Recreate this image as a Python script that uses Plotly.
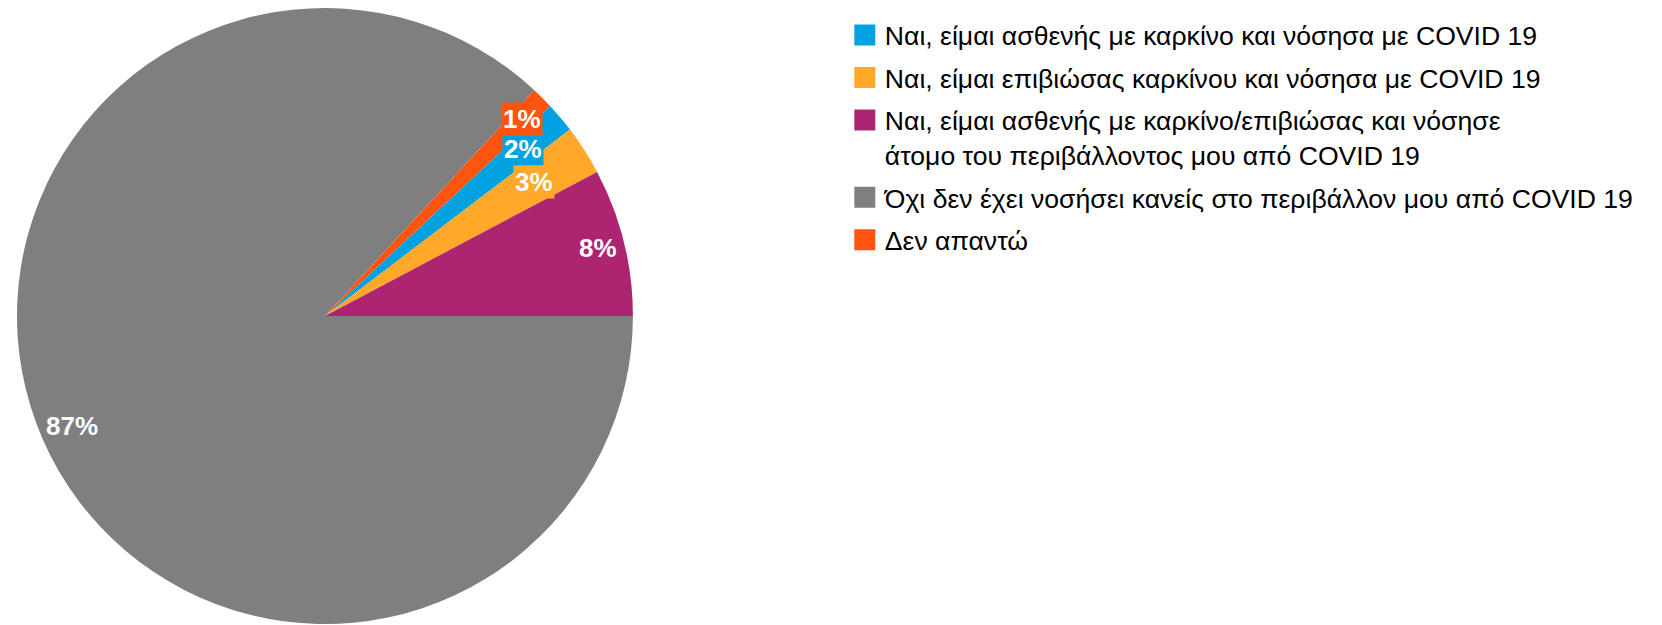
import math
import plotly.graph_objects as go

labels = [
    "Ναι, είμαι ασθενής με καρκίνο και νόσησα με COVID 19",
    "Ναι, είμαι επιβιώσας καρκίνου και νόσησα με COVID 19",
    "Ναι, είμαι ασθενής με καρκίνο/επιβιώσας και νόσησε<br>άτομο του περιβάλλοντος μου από COVID 19",
    "Όχι δεν έχει νοσήσει κανείς στο περιβάλλον μου από COVID 19",
    "Δεν απαντώ",
]
shares = [1.6, 2.6, 7.75, 86.9, 1.15]
colors = ["#00A3E0", "#FFA82A", "#AD2470", "#7F7F7F", "#FF5410"]

W, H = 1662, 625
dom_x = [0.0054, 0.3760]
dom_y = [0.0144, 1.0]
font = "Liberation Sans, Arial"

# excel "best fit" look: label distance from centre (fraction of radius), boxed or not
label_r = [0.843, 0.807, 0.913, 0.896, 0.905]
label_box = [True, True, False, False, True]

total = sum(shares)
# blue slice starts so that the purple one ends exactly at 3 o'clock
start = 90 - 360 * sum(shares[:3]) / total

fig = go.Figure()
fig.add_trace(
    go.Pie(
        labels=labels,
        values=shares,
        sort=False,
        direction="clockwise",
        rotation=start,
        marker=dict(colors=colors, line=dict(width=0)),
        textinfo="none",
        hoverinfo="label+percent",
        showlegend=False,
        domain=dict(x=dom_x, y=dom_y),
    )
)

# legend entries (bigger swatches and spacing than the pie legend allows)
for i, (lab, col) in enumerate(zip(labels, colors)):
    fig.add_trace(
        go.Scatter(
            x=[None], y=[None], mode="markers", name=lab,
            legendgroup=f"g{i}",
            marker=dict(symbol="square", size=16, color=col, line=dict(width=5, color=col)),
        )
    )

# percent labels placed at each slice's mid-angle
cx = (dom_x[0] + dom_x[1]) / 2
cy = (dom_y[0] + dom_y[1]) / 2
r_px = min((dom_x[1] - dom_x[0]) * W, (dom_y[1] - dom_y[0]) * H) / 2
cum = 0
for i, v in enumerate(shares):
    mid = start + 360 * (cum + v / 2) / total  # clockwise from 12 o'clock
    cum += v
    a = math.radians(mid)
    px = r_px * label_r[i] * math.sin(a)
    py = r_px * label_r[i] * math.cos(a)
    fig.add_annotation(
        x=cx + px / W, y=cy + py / H, xref="paper", yref="paper",
        xanchor="center", yanchor="middle",
        text=f"<b>{round(100 * v / total)}%</b>", showarrow=False,
        font=dict(family=font, size=26, color="white"),
        bgcolor=colors[i] if label_box[i] else None,
        borderpad=1,
    )

fig.update_layout(
    width=W,
    height=H,
    margin=dict(t=0, b=0, l=0, r=0),
    paper_bgcolor="white",
    plot_bgcolor="white",
    font=dict(family=font, color="black"),
    xaxis=dict(visible=False),
    yaxis=dict(visible=False),
    legend=dict(
        x=0.5035,
        y=0.995,
        xanchor="left",
        yanchor="top",
        font=dict(size=26.6, color="black"),
        tracegroupgap=5,
        valign="top",
    ),
)

fig.write_html("out.html")
